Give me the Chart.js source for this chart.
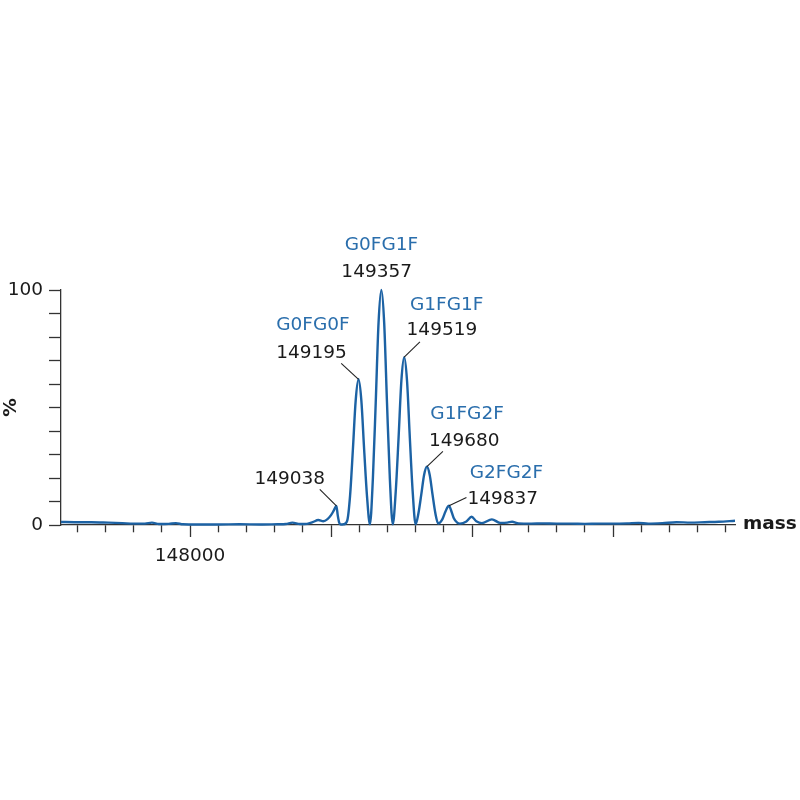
<!DOCTYPE html>
<html>
<head>
<meta charset="utf-8">
<title>Deconvoluted mass spectrum</title>
<script src="https://cdn.jsdelivr.net/npm/chart.js@4/dist/chart.umd.min.js"></script>
<style>
  html, body { margin: 0; padding: 0; background: #fff; }
  #wrap { width: 800px; height: 800px; }
</style>
</head>
<body>
<div id="wrap"><canvas id="chart" width="800" height="800"></canvas></div>
<script>
// spectrum: mass (Da) and relative intensity (%)
const masses = [
  147085, 147180, 147300, 147420, 147520, 147600, 147680, 147730, 147780, 147850,
  147900, 147950, 148050, 148200, 148350, 148500, 148620, 148680, 148726, 148780,
  148830, 148870, 148910, 148945, 148975, 149000, 149020, 149038, 149048, 149058,
  149068, 149090, 149115, 149135, 149155, 149175, 149195, 149215, 149235, 149255,
  149276, 149297, 149317, 149337, 149357, 149377, 149397, 149417, 149438, 149459,
  149479, 149499, 149519, 149539, 149559, 149579, 149600, 149620, 149640, 149660,
  149680, 149700, 149720, 149740, 149760, 149790, 149810, 149825, 149837, 149850,
  149870, 149895, 149914, 149960, 149997, 150030, 150070, 150141, 150200, 150250,
  150284, 150330, 150420, 150500, 150600, 150700, 150800, 150900, 151000, 151100,
  151180, 151250, 151350, 151450, 151550, 151650, 151750, 151865
]
const intensities = [
  1.3, 1.2, 1.2, 1.0, 0.8, 0.6, 0.6, 1.0, 0.4, 0.5,
  0.8, 0.3, 0.2, 0.2, 0.3, 0.2, 0.3, 0.4, 1.0, 0.4,
  0.5, 1.2, 2.1, 1.6, 2.5, 4.2, 6.2, 8.1, 4.0, 1.0,
  0.2, 0.3, 1.9, 12.4, 32, 53, 62, 53, 32, 12.4,
  0.3, 20, 52, 86, 100, 86, 52, 20, 0.3, 14.3,
  37, 61.4, 71.4, 61.4, 37, 14.3, 0.3, 5, 12.9, 21.3,
  24.8, 21.3, 12.9, 5, 0.6, 2.5, 5.5, 7.5, 8.2, 6.5,
  3.0, 1.0, 0.6, 1.5, 3.5, 1.6, 0.8, 2.4, 0.9, 1.0,
  1.4, 0.7, 0.6, 0.7, 0.6, 0.6, 0.5, 0.6, 0.6, 0.7,
  0.9, 0.6, 0.8, 1.2, 1.0, 1.2, 1.4, 1.8
]

// annotated peaks
const peakMasses = [149038, 149195, 149357, 149519, 149680, 149837]
const peakHeights = [8.1, 62, 100, 71.4, 24.8, 8.2]
const peakNames = ["", "G0FG0F", "G0FG1F", "G1FG1F", "G1FG2F", "G2FG2F"]

// axis ticks: x every 200 Da (long mark each 1000), y every 10 %
const xTickValues = []
for (let v = 147200; v <= 151800; v += 200) xTickValues.push(v)
const xLabels = [148000]
const yLabels = [0, 100]

// label placement relative to the peak (pixels)
const labelLayout = [
  { nx: 0, ny: 0, tx: -82, ty: -21.5, lx: -16.6, ly: -16.7 },
  { nx: -82.3, ny: -49.3, tx: -82.3, ty: -21, lx: -17.3, ly: -16 },
  { nx: -36.7, ny: -40, tx: -40, ty: -13.3, lx: null, ly: null },
  { nx: 5.7, ny: -47, tx: 2.4, ty: -22, lx: 15.7, ly: -15.3 },
  { nx: 3.4, ny: -48, tx: 2, ty: -20.3, lx: 16, ly: -15.3 },
  { nx: 20.7, ny: -28, tx: 18.4, ty: -2, lx: 17.4, ly: -8.3 },
]

const FONT = "'DejaVu Sans', Verdana, sans-serif"
const LINE_BLUE = "#1c62a4"
const TEXT_BLUE = "#2a6eac"
const INK = "#1a1a1a"

const peakLabelPlugin = {
  id: "peakLabels",
  afterDraw(chart) {
    const { ctx, scales } = chart
    const x = scales.x
    const y = scales.y
    ctx.save()
    ctx.font = "18.5px " + FONT
    ctx.textBaseline = "alphabetic"
    ctx.textAlign = "left"
    peakMasses.forEach((m, i) => {
      const px = x.getPixelForValue(m)
      const py = y.getPixelForValue(peakHeights[i])
      const lay = labelLayout[i]
      if (lay.lx !== null) {
        ctx.strokeStyle = "#222"
        ctx.lineWidth = 1.1
        ctx.beginPath()
        ctx.moveTo(px + lay.lx, py + lay.ly)
        ctx.lineTo(px, py)
        ctx.stroke()
      }
      if (peakNames[i]) {
        ctx.fillStyle = TEXT_BLUE
        ctx.fillText(peakNames[i], px + lay.nx, py + lay.ny)
      }
      ctx.fillStyle = INK
      ctx.fillText(String(m), px + lay.tx, py + lay.ty)
    })

    // axis name at the right end of the mass axis
    ctx.font = "bold 18.5px " + FONT
    ctx.textBaseline = "middle"
    ctx.fillText("mass", x.right + 8, x.top - 1)
    ctx.restore()
  }
}

const points = masses.map((m, i) => ({ x: m, y: intensities[i] }))

new Chart(document.getElementById("chart"), {
  type: "scatter",
  data: {
    datasets: [{
      data: points,
      showLine: true,
      borderColor: LINE_BLUE,
      borderWidth: 2.4,
      pointRadius: 0,
      cubicInterpolationMode: "monotone",
      clip: false,
    }]
  },
  options: {
    responsive: false,
    animation: false,
    layout: { padding: { top: 290, right: 65, bottom: 0, left: 0 } },
    plugins: {
      legend: { display: false },
      tooltip: { enabled: false },
    },
    scales: {
      x: {
        type: "linear",
        min: 147085,
        max: 151865,
        afterFit: (s) => { s.height = 275 },
        afterBuildTicks: (s) => { s.ticks = xTickValues.map((v) => ({ value: v })) },
        border: { display: true, color: "#333", width: 1.3 },
        grid: {
          drawOnChartArea: false,
          drawTicks: true,
          tickLength: 12,
          tickColor: "#333",
          tickWidth: 1.3,
          tickBorderDash: (c) => (c.tick && c.tick.value % 1000 === 0 ? [] : [7, 30]),
        },
        ticks: {
          autoSkip: false,
          maxRotation: 0,
          padding: 8,
          color: INK,
          font: { family: FONT, size: 18.5 },
          callback: (v) => (xLabels.includes(v) ? String(v) : ""),
        },
      },
      y: {
        min: 0,
        max: 100,
        afterFit: (s) => { s.width = 61 },
        border: { display: true, color: "#333", width: 1.3 },
        grid: {
          drawOnChartArea: false,
          drawTicks: true,
          tickLength: 12,
          tickColor: "#333",
          tickWidth: 1.3,
        },
        ticks: {
          stepSize: 10,
          autoSkip: false,
          padding: 6,
          color: INK,
          font: { family: FONT, size: 18.5 },
          callback: (v) => (yLabels.includes(v) ? String(v) : ""),
        },
        title: {
          display: true,
          text: "%",
          color: INK,
          padding: 0,
          font: { family: FONT, size: 18.5, weight: "bold" },
        },
      },
    },
  },
  plugins: [peakLabelPlugin],
})
</script>
</body>
</html>
